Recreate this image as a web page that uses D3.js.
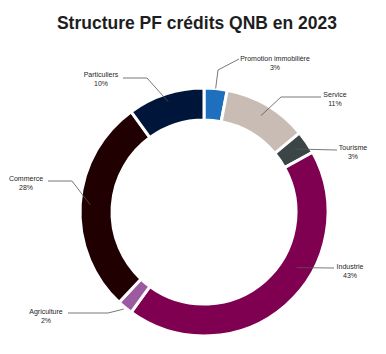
<!DOCTYPE html>
<html>
<head>
<meta charset="utf-8">
<script src="https://cdn.jsdelivr.net/npm/d3@7"></script>
<style>
  body { margin: 0; background: #fff; }
  svg { display: block; font-family: "Liberation Sans", Arial, sans-serif; }
  .titre { font-size: 17.5px; font-weight: bold; fill: #1e1e1e; }
  .etiquette { font-size: 7px; fill: #262626; }
  .guide { fill: none; stroke: #555; stroke-width: 0.8; }
</style>
</head>
<body>
<svg id="graphe" width="386" height="354"></svg>
<script>
// Secteurs (ordre horaire depuis midi)
const secteurs = ["Promotion immobilière", "Service", "Tourisme", "Industrie", "Agriculture", "Commerce", "Particuliers"];
const parts    = [3, 11, 3, 43, 2, 28, 10];
const couleurs = ["#1f6fbf", "#c9bcb5", "#3b4545", "#7f0050", "#9c5aa0", "#210002", "#00153a"];

// placement des étiquettes et des traits de rappel (mise en page seulement)
const placement = {
    "Promotion immobilière": { tx: 275, ty: 59,  x0: 239, y0: 59,  ex: 218, ey: 70,  r: 124 },
    "Service":               { tx: 335, ty: 95,  x0: 321, y0: 97,  ex: 281, ey: 97,  r: 112 },
    "Tourisme":              { tx: 353, ty: 148, x0: 337, y0: 150, ex: 337, ey: 150, r: 112 },
    "Industrie":             { tx: 350, ty: 267, x0: 334, y0: 268, ex: 334, ey: 268, r: 108, a: 121 },
    "Agriculture":           { tx: 46,  ty: 312, x0: 68,  y0: 313, ex: 108, ey: 313, r: 126 },
    "Commerce":              { tx: 26,  ty: 179, x0: 48,  y0: 181, ex: 72,  ey: 181, r: 114 },
    "Particuliers":          { tx: 101, ty: 75,  x0: 123, y0: 78,  ex: 147, ey: 78,  r: 116 },
};

const cx = 204, cy = 212, rExt = 124, rInt = 92;
const svg = d3.select("#graphe");

svg.append("text")
    .attr("class", "titre")
    .attr("x", 197).attr("y", 23)
    .attr("dy", "0.35em")
    .attr("text-anchor", "middle")
    .text("Structure PF crédits QNB en 2023");

const donnees = secteurs.map((s, i) => ({ nom: s, part: parts[i], couleur: couleurs[i] }));
const pie = d3.pie().value(d => d.part).sort(null);
const arc = d3.arc().innerRadius(rInt).outerRadius(rExt);
const arcs = pie(donnees);

const g = svg.append("g").attr("transform", `translate(${cx},${cy})`);

g.selectAll(".part")
    .data(arcs)
    .join("path")
    .attr("class", "part")
    .attr("d", arc)
    .attr("fill", d => d.data.couleur)
    .attr("stroke", "#fff")
    .attr("stroke-width", 3);

// traits de rappel
svg.selectAll(".guide")
    .data(arcs)
    .join("polyline")
    .attr("class", "guide")
    .attr("points", d => {
        const p = placement[d.data.nom];
        const ang = p.a !== undefined ? p.a * Math.PI / 180 : (d.startAngle + d.endAngle) / 2;
        const fx = cx + p.r * Math.sin(ang), fy = cy - p.r * Math.cos(ang);
        return [[p.x0, p.y0], [p.ex, p.ey], [fx, fy]].map(q => q.join(",")).join(" ");
    });

// étiquettes
const etiq = svg.selectAll(".etiquette")
    .data(arcs)
    .join("text")
    .attr("class", "etiquette")
    .attr("text-anchor", "middle");

etiq.append("tspan")
    .attr("x", d => placement[d.data.nom].tx)
    .attr("y", d => placement[d.data.nom].ty)
    .attr("dy", "0.35em")
    .text(d => d.data.nom);

etiq.append("tspan")
    .attr("x", d => placement[d.data.nom].tx)
    .attr("y", d => placement[d.data.nom].ty + 9)
    .attr("dy", "0.35em")
    .text(d => d.data.part + "%");
</script>
</body>
</html>
